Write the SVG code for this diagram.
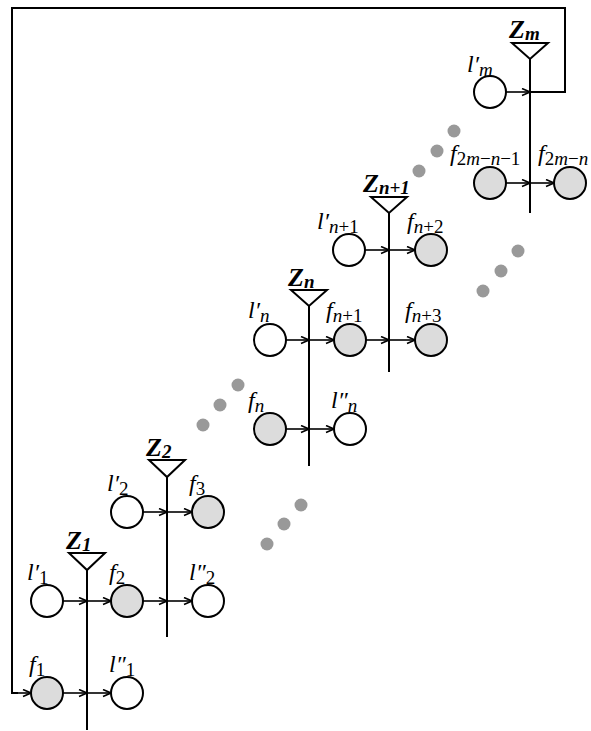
<svg xmlns="http://www.w3.org/2000/svg" width="591" height="731" viewBox="0 0 591 731">
<style>
.c{stroke:#000;stroke-width:2;fill:#fff}
.g{stroke:#000;stroke-width:2;fill:#dcdcdc}
.ln{stroke:#000;stroke-width:2;fill:none}
.ar{stroke:#000;stroke-width:1.6;fill:none;marker-end:url(#ah)}
.tri{stroke:#000;stroke-width:2;fill:#fff}
.dot{fill:#999}
text{font-family:"Liberation Serif","Times New Roman",serif;font-style:italic;font-size:24px;fill:#000}
.z{font-weight:bold;font-size:26px}
.s{font-size:19px}
.u{font-style:normal}
</style>
<defs>
<marker id="ah" markerWidth="10" markerHeight="10" refX="9" refY="4" orient="auto" markerUnits="userSpaceOnUse">
<path d="M1,0.5 L9,4 L1,7.5" fill="none" stroke="#000" stroke-width="1.6"/>
</marker>
</defs>
<rect width="591" height="731" fill="#fff"/>

<g id="connectors">
<polyline class="ln" points="530,92 565,92 565,8 12,8 12,693 18,693"/>
<line class="ar" x1="12" y1="693" x2="31" y2="693"/>
<line class="ar" x1="63" y1="601" x2="87" y2="601"/>
<line class="ar" x1="87" y1="601" x2="111" y2="601"/>
<line class="ar" x1="63" y1="693" x2="87" y2="693"/>
<line class="ar" x1="87" y1="693" x2="111" y2="693"/>
<line class="ar" x1="143" y1="512" x2="167" y2="512"/>
<line class="ar" x1="167" y1="512" x2="192" y2="512"/>
<line class="ar" x1="143" y1="601" x2="167" y2="601"/>
<line class="ar" x1="167" y1="601" x2="192" y2="601"/>
<line class="ar" x1="286" y1="340" x2="309" y2="340"/>
<line class="ar" x1="309" y1="340" x2="334" y2="340"/>
<line class="ar" x1="286" y1="429" x2="309" y2="429"/>
<line class="ar" x1="309" y1="429" x2="334" y2="429"/>
<line class="ar" x1="365" y1="250" x2="389" y2="250"/>
<line class="ar" x1="389" y1="250" x2="415" y2="250"/>
<line class="ar" x1="366" y1="340" x2="389" y2="340"/>
<line class="ar" x1="389" y1="340" x2="415" y2="340"/>
<line class="ar" x1="506" y1="92" x2="530" y2="92"/>
<line class="ar" x1="506" y1="183" x2="530" y2="183"/>
<line class="ar" x1="530" y1="183" x2="554" y2="183"/>
</g>

<g id="Z1">
<line class="ln" x1="87" y1="569" x2="87" y2="730"/>
<polygon class="tri" points="69,553 105,553 87,570"/>
<text class="z" x="66" y="549">Z<tspan class="s" dy="2">1</tspan></text>
</g>
<g id="Z2">
<line class="ln" x1="167" y1="476" x2="167" y2="637"/>
<polygon class="tri" points="149,460 185,460 167,477"/>
<text class="z" x="146" y="456">Z<tspan class="s" dy="2">2</tspan></text>
</g>
<g id="Zn">
<line class="ln" x1="309" y1="305" x2="309" y2="466"/>
<polygon class="tri" points="291,290 327,290 309,306"/>
<text class="z" x="288" y="286">Z<tspan class="s" dy="2">n</tspan></text>
</g>
<g id="Zn1">
<line class="ln" x1="389" y1="212" x2="389" y2="372"/>
<polygon class="tri" points="371,197 407,197 389,213"/>
<text class="z" x="363" y="192">Z<tspan class="s" dy="2">n+1</tspan></text>
</g>
<g id="Zm">
<line class="ln" x1="530" y1="58" x2="530" y2="213"/>
<polygon class="tri" points="512,43 548,43 530,59"/>
<text class="z" x="509" y="38">Z<tspan class="s" dy="2">m</tspan></text>
</g>

<g id="f1"><circle class="g" cx="47" cy="693" r="16"/><text x="29" y="672">f<tspan class="s u" dy="4">1</tspan></text></g>
<g id="lpp1"><circle class="c" cx="127" cy="693" r="16"/><text x="109" y="672">l″<tspan class="s u" dy="4">1</tspan></text></g>
<g id="lp1"><circle class="c" cx="47" cy="601" r="16"/><text x="27" y="580">l′<tspan class="s u" dy="4">1</tspan></text></g>
<g id="f2"><circle class="g" cx="127" cy="601" r="16"/><text x="109" y="580">f<tspan class="s u" dy="4">2</tspan></text></g>
<g id="lpp2"><circle class="c" cx="208" cy="601" r="16"/><text x="189" y="580">l″<tspan class="s u" dy="4">2</tspan></text></g>
<g id="lp2"><circle class="c" cx="127" cy="512" r="16"/><text x="107" y="491">l′<tspan class="s u" dy="4">2</tspan></text></g>
<g id="f3"><circle class="g" cx="208" cy="512" r="16"/><text x="189" y="491">f<tspan class="s u" dy="4">3</tspan></text></g>

<g id="fn"><circle class="g" cx="270" cy="429" r="16"/><text x="248" y="408">f<tspan class="s" dy="4">n</tspan></text></g>
<g id="lppn"><circle class="c" cx="350" cy="429" r="16"/><text x="331" y="408">l″<tspan class="s" dy="4">n</tspan></text></g>
<g id="lpn"><circle class="c" cx="270" cy="340" r="16"/><text x="248" y="318">l′<tspan class="s" dy="4">n</tspan></text></g>
<g id="fn1"><circle class="g" cx="350" cy="340" r="16"/><text x="326" y="318">f<tspan class="s" dy="4">n<tspan class="u">+1</tspan></tspan></text></g>
<g id="fn3"><circle class="g" cx="431" cy="340" r="16"/><text x="405" y="318">f<tspan class="s" dy="4">n<tspan class="u">+3</tspan></tspan></text></g>
<g id="lpn1"><circle class="c" cx="349" cy="250" r="16"/><text x="317" y="229">l′<tspan class="s" dy="4">n<tspan class="u">+1</tspan></tspan></text></g>
<g id="fn2"><circle class="g" cx="431" cy="250" r="16"/><text x="407" y="229">f<tspan class="s" dy="4">n<tspan class="u">+2</tspan></tspan></text></g>

<g id="lpm"><circle class="c" cx="490" cy="92" r="16"/><text x="467" y="72">l′<tspan class="s" dy="4">m</tspan></text></g>
<g id="f2mn1"><circle class="g" cx="490" cy="183" r="16"/><text x="450" y="161">f<tspan class="s" dy="4"><tspan class="u">2</tspan>m<tspan class="u">−</tspan>n<tspan class="u">−1</tspan></tspan></text></g>
<g id="f2mn"><circle class="g" cx="570" cy="183" r="16"/><text x="538" y="161">f<tspan class="s" dy="4"><tspan class="u">2</tspan>m<tspan class="u">−</tspan>n</tspan></text></g>

<g id="dots">
<circle class="dot" cx="203" cy="425" r="6.5"/>
<circle class="dot" cx="220" cy="405" r="6.5"/>
<circle class="dot" cx="238" cy="385" r="6.5"/>
<circle class="dot" cx="267" cy="544" r="6.5"/>
<circle class="dot" cx="284" cy="524" r="6.5"/>
<circle class="dot" cx="301" cy="505" r="6.5"/>
<circle class="dot" cx="419" cy="171" r="6.5"/>
<circle class="dot" cx="437" cy="151" r="6.5"/>
<circle class="dot" cx="454" cy="131" r="6.5"/>
<circle class="dot" cx="483" cy="291" r="6.5"/>
<circle class="dot" cx="501" cy="271" r="6.5"/>
<circle class="dot" cx="518" cy="251" r="6.5"/>
</g>
</svg>
